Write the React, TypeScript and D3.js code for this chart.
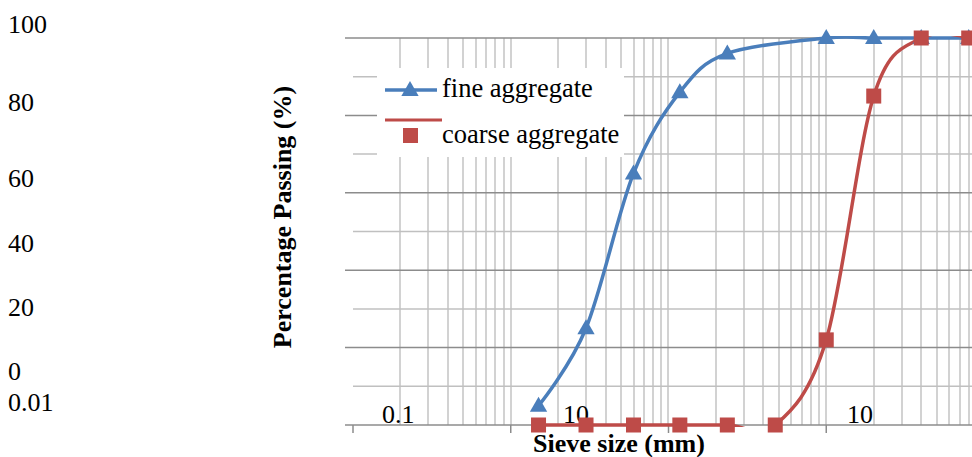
import React, { useEffect, useRef } from 'react';
import * as d3 from 'd3';

// sieve sizes (mm) and percent passing
const fineSizes = [0.15, 0.3, 0.6, 1.18, 2.36, 10, 20, 40, 80];
const finePassing = [5, 25, 65, 86, 96, 100, 100, 100, 100];
const coarseSizes = [0.15, 0.3, 0.6, 1.18, 2.36, 4.75, 10, 20, 40, 80];
const coarsePassing = [0, 0, 0, 0, 0, 0, 22, 85, 100, 100];

const seriesNames = ['fine aggregate', 'coarse aggregate'];
const yTickLabels = ['100', '80', '60', '40', '20', '0', '0.01'];
const xTickLabels = ['0.1', '10', '10'];
const xTitle = 'Sieve size (mm)';
const yTitle = 'Percentage Passing (%)';

// where the labels ended up in the (shifted) original rendering
const yLabelBaselines = [33, 111, 187, 252, 316, 380, 411];
const xLabelStarts = [382, 563, 847];

const BLUE = '#4a7ebb';
const RED = '#be4b48';
const FONT = "'Liberation Serif', 'Times New Roman', serif";

const GradingChart = () => {
  const ref = useRef(null);

  useEffect(() => {
    const width = 972;
    const height = 457;
    const left = 353;
    const right = 984;
    const top = 38;
    const bottom = 425;

    const root = d3.select(ref.current);
    root.selectAll('*').remove();

    const svg = root
      .append('svg')
      .attr('width', width)
      .attr('height', height)
      .style('display', 'block')
      .style('font-family', FONT);

    const x = d3.scaleLog().domain([0.01, 100]).range([left, right]);
    const y = d3.scaleLinear().domain([0, 100]).range([bottom, top]);

    svg
      .append('defs')
      .append('clipPath')
      .attr('id', 'plot-clip')
      .append('rect')
      .attr('x', left)
      .attr('y', top - 2)
      .attr('width', right - left)
      .attr('height', bottom - top + 4);

    // vertical (minor log) gridlines
    const vTicks = x.ticks().filter(d => d > 0.01);
    svg
      .append('g')
      .selectAll('line')
      .data(vTicks)
      .enter()
      .append('line')
      .attr('x1', d => Math.round(x(d)))
      .attr('x2', d => Math.round(x(d)))
      .attr('y1', top)
      .attr('y2', bottom)
      .attr('stroke', '#d2d2d2')
      .attr('stroke-width', 2);

    // horizontal gridlines: minor every 10, major every 20
    const minorY = d3.range(10, 100, 20);
    const majorY = d3.range(20, 101, 20);
    svg
      .append('g')
      .selectAll('line')
      .data(minorY)
      .enter()
      .append('line')
      .attr('x1', left)
      .attr('x2', right)
      .attr('y1', d => y(d))
      .attr('y2', d => y(d))
      .attr('stroke', '#c0c0c0')
      .attr('stroke-width', 1.5);
    svg
      .append('g')
      .selectAll('line')
      .data(majorY)
      .enter()
      .append('line')
      .attr('x1', left - 8)
      .attr('x2', right)
      .attr('y1', d => y(d))
      .attr('y2', d => y(d))
      .attr('stroke', '#8c8c8c')
      .attr('stroke-width', 1.5);

    // x axis line + decade ticks
    svg
      .append('line')
      .attr('x1', left - 8)
      .attr('x2', right)
      .attr('y1', y(0))
      .attr('y2', y(0))
      .attr('stroke', '#8c8c8c')
      .attr('stroke-width', 1.5);
    svg
      .append('g')
      .selectAll('line')
      .data(x.ticks().filter(d => Math.abs(Math.log10(d) % 1) < 1e-9))
      .enter()
      .append('line')
      .attr('x1', d => x(d))
      .attr('x2', d => x(d))
      .attr('y1', y(0))
      .attr('y2', y(0) + 8)
      .attr('stroke', '#8c8c8c')
      .attr('stroke-width', 1.5);

    // tick labels
    svg
      .append('g')
      .selectAll('text')
      .data(yTickLabels)
      .enter()
      .append('text')
      .attr('x', 8)
      .attr('y', (d, i) => yLabelBaselines[i])
      .style('font-size', '26px')
      .text(d => d);
    svg
      .append('g')
      .selectAll('text')
      .data(xTickLabels)
      .enter()
      .append('text')
      .attr('x', (d, i) => xLabelStarts[i])
      .attr('y', 423)
      .style('font-size', '26px')
      .text(d => d);

    // axis titles
    svg
      .append('text')
      .attr('x', 619)
      .attr('y', 452)
      .attr('text-anchor', 'middle')
      .style('font-size', '26px')
      .style('font-weight', 'bold')
      .text(xTitle);
    svg
      .append('text')
      .attr('transform', 'translate(291,217) rotate(-90)')
      .attr('text-anchor', 'middle')
      .style('font-size', '26px')
      .style('font-weight', 'bold')
      .text(yTitle);

    const fine = fineSizes.map((s, i) => [s, finePassing[i]]);
    const coarse = coarseSizes.map((s, i) => [s, coarsePassing[i]]);

    const line = d3
      .line()
      .x(d => x(d[0]))
      .y(d => y(d[1]))
      .curve(d3.curveCardinal.tension(0));

    const lines = svg.append('g').attr('clip-path', 'url(#plot-clip)');
    lines
      .append('path')
      .attr('d', line(fine))
      .attr('fill', 'none')
      .attr('stroke', BLUE)
      .attr('stroke-width', 3.5);
    lines
      .append('path')
      .attr('d', line(coarse))
      .attr('fill', 'none')
      .attr('stroke', RED)
      .attr('stroke-width', 3.5);

    const tri = d3.symbol().type(d3.symbolTriangle).size(130);
    svg
      .append('g')
      .selectAll('path')
      .data(fine)
      .enter()
      .append('path')
      .attr('d', tri)
      .attr('transform', d => `translate(${x(d[0])},${y(d[1]) + 1})`)
      .attr('fill', BLUE);

    svg
      .append('g')
      .selectAll('rect')
      .data(coarse)
      .enter()
      .append('rect')
      .attr('x', d => x(d[0]) - 7.5)
      .attr('y', d => y(d[1]) - 7.5)
      .attr('width', 15)
      .attr('height', 15)
      .attr('fill', RED);

    // legend
    const legend = svg.append('g');
    legend
      .append('rect')
      .attr('x', 377)
      .attr('y', 68)
      .attr('width', 247)
      .attr('height', 89)
      .attr('fill', 'white');
    legend
      .append('line')
      .attr('x1', 385)
      .attr('x2', 437)
      .attr('y1', 90)
      .attr('y2', 90)
      .attr('stroke', BLUE)
      .attr('stroke-width', 3.5);
    legend
      .append('path')
      .attr('d', tri)
      .attr('transform', 'translate(410,91)')
      .attr('fill', BLUE);
    legend
      .append('line')
      .attr('x1', 385)
      .attr('x2', 442)
      .attr('y1', 120)
      .attr('y2', 120)
      .attr('stroke', RED)
      .attr('stroke-width', 3);
    legend
      .append('rect')
      .attr('x', 403)
      .attr('y', 128)
      .attr('width', 15)
      .attr('height', 15)
      .attr('fill', RED);
    legend
      .selectAll('text')
      .data(seriesNames)
      .enter()
      .append('text')
      .attr('x', 442)
      .attr('y', (d, i) => (i === 0 ? 97 : 143))
      .style('font-size', '26.5px')
      .text(d => d);
  }, []);

  return <div ref={ref} style={{ position: 'absolute', left: 0, top: 0 }}></div>;
};

export default function App() {
  return <GradingChart />;
}
